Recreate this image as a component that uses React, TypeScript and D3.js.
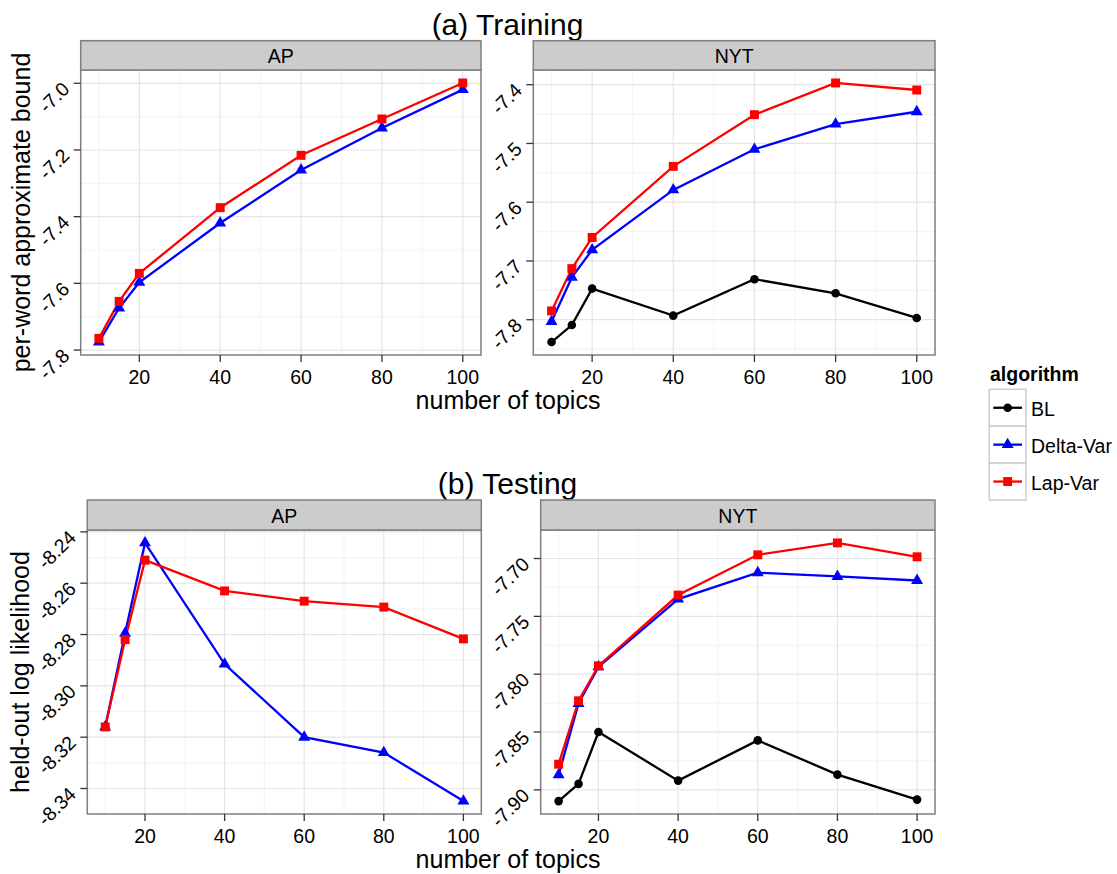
import React from 'react';
import * as d3 from 'd3';

// ---------- data ----------
const topics = [10, 15, 20, 40, 60, 80, 100];
const xTickValues = [20, 40, 60, 80, 100];
const xMinorValues = [10, 30, 50, 70, 90];

const algorithms = ['BL', 'Delta-Var', 'Lap-Var'];
const algColors = ['#000000', '#0000FF', '#FF0000'];
const algShapes = ['circle', 'triangle', 'square'];

const trainAP_Delta = [-7.776, -7.674, -7.597, -7.419, -7.26, -7.134, -7.019];
const trainAP_Lap = [-7.765, -7.654, -7.57, -7.373, -7.216, -7.107, -6.999];
const trainNYT_BL = [-7.838, -7.809, -7.747, -7.793, -7.731, -7.755, -7.797];
const trainNYT_Delta = [-7.803, -7.728, -7.681, -7.579, -7.51, -7.467, -7.446];
const trainNYT_Lap = [-7.785, -7.713, -7.66, -7.539, -7.451, -7.397, -7.409];

const testAP_Delta = [-8.316, -8.2795, -8.2443, -8.2915, -8.32, -8.326, -8.3449];
const testAP_Lap = [-8.316, -8.282, -8.251, -8.263, -8.267, -8.2693, -8.2817];
const testNYT_BL = [-7.9097, -7.8948, -7.85, -7.892, -7.8572, -7.8868, -7.9084];
const testNYT_Delta = [-7.887, -7.8253, -7.7937, -7.7351, -7.7123, -7.7155, -7.719];
const testNYT_Lap = [-7.8778, -7.823, -7.7928, -7.7316, -7.6968, -7.6865, -7.6985];

const yTicksTrainAP = [-7.8, -7.6, -7.4, -7.2, -7.0];
const yTicksTrainNYT = [-7.8, -7.7, -7.6, -7.5, -7.4];
const yTicksTestAP = [-8.34, -8.32, -8.3, -8.28, -8.26, -8.24];
const yTicksTestNYT = [-7.9, -7.85, -7.8, -7.75, -7.7];

const titleTrain = '(a) Training';
const titleTest = '(b) Testing';
const xTitle = 'number of topics';
const yTitleTrain = 'per-word approximate bound';
const yTitleTest = 'held-out log likelihood';
const legendTitle = 'algorithm';

// ---------- layout ----------
const W = 1117;
const H = 874;
const FONT = "'Liberation Sans', Arial, Helvetica, sans-serif";

type Series = { alg: number; values: number[] };
type Panel = {
  name: string;
  left: number;
  right: number;
  stripTop: number;
  top: number;
  bottom: number;
  series: Series[];
  yTicks: number[];
  decimals: number;
};

const panels: Panel[] = [
  { name: 'AP', left: 80.7, right: 481, stripTop: 40.7, top: 70, bottom: 355,
    series: [{ alg: 1, values: trainAP_Delta }, { alg: 2, values: trainAP_Lap }],
    yTicks: yTicksTrainAP, decimals: 1 },
  { name: 'NYT', left: 533.3, right: 935, stripTop: 40.7, top: 70, bottom: 355,
    series: [{ alg: 0, values: trainNYT_BL }, { alg: 1, values: trainNYT_Delta }, { alg: 2, values: trainNYT_Lap }],
    yTicks: yTicksTrainNYT, decimals: 1 },
  { name: 'AP', left: 87.3, right: 481.3, stripTop: 500, top: 530, bottom: 814,
    series: [{ alg: 1, values: testAP_Delta }, { alg: 2, values: testAP_Lap }],
    yTicks: yTicksTestAP, decimals: 2 },
  { name: 'NYT', left: 540.7, right: 935, stripTop: 500, top: 530, bottom: 814,
    series: [{ alg: 0, values: testNYT_BL }, { alg: 1, values: testNYT_Delta }, { alg: 2, values: testNYT_Lap }],
    yTicks: yTicksTestNYT, decimals: 2 },
];

const symbolTypes: Record<string, d3.SymbolType> = {
  circle: d3.symbolCircle,
  triangle: d3.symbolTriangle,
  square: d3.symbolSquare,
};
const symbolSizes: Record<string, number> = { circle: 58, triangle: 62, square: 80 };

function symbolPath(shape: string) {
  return d3.symbol().type(symbolTypes[shape]).size(symbolSizes[shape])() as string;
}

function PanelView({ p }: { p: Panel }) {
  const xExt = d3.extent(topics) as [number, number];
  const xPad = (xExt[1] - xExt[0]) * 0.05;
  const x = d3.scaleLinear().domain([xExt[0] - xPad, xExt[1] + xPad]).range([p.left, p.right]);
  const all = p.series.flatMap((s) => s.values);
  const yExt = d3.extent(all) as [number, number];
  const yPad = (yExt[1] - yExt[0]) * 0.05;
  const yDom: [number, number] = [yExt[0] - yPad, yExt[1] + yPad];
  const y = d3.scaleLinear().domain(yDom).range([p.bottom, p.top]);
  const step = p.yTicks[1] - p.yTicks[0];
  const yMinor = [p.yTicks[0] - step / 2, ...p.yTicks.map((t) => t + step / 2)].filter(
    (v) => v > yDom[0] && v < yDom[1]
  );
  const fmt = (v: number) => v.toFixed(p.decimals);
  const line = d3
    .line<number>()
    .x((_, i) => x(topics[i]))
    .y((d) => y(d));
  const stripMid = (p.stripTop + p.top) / 2;

  return (
    <g>
      <rect x={p.left} y={p.top} width={p.right - p.left} height={p.bottom - p.top} fill="#ffffff" />
      {xMinorValues.map((v) => (
        <line key={'xm' + v} x1={x(v)} x2={x(v)} y1={p.top} y2={p.bottom} stroke="#f5f5f5" strokeWidth={1.2} />
      ))}
      {yMinor.map((v, i) => (
        <line key={'ym' + i} x1={p.left} x2={p.right} y1={y(v)} y2={y(v)} stroke="#f5f5f5" strokeWidth={1.2} />
      ))}
      {xTickValues.map((v) => (
        <line key={'xg' + v} x1={x(v)} x2={x(v)} y1={p.top} y2={p.bottom} stroke="#e5e5e5" strokeWidth={1.2} />
      ))}
      {p.yTicks.map((v, i) => (
        <line key={'yg' + i} x1={p.left} x2={p.right} y1={y(v)} y2={y(v)} stroke="#e5e5e5" strokeWidth={1.2} />
      ))}
      {p.series.map((s) => (
        <path key={'l' + s.alg} d={line(s.values) as string} fill="none" stroke={algColors[s.alg]} strokeWidth={2.3} />
      ))}
      {p.series.map((s) =>
        s.values.map((v, i) => (
          <path
            key={'p' + s.alg + '-' + i}
            d={symbolPath(algShapes[s.alg])}
            transform={`translate(${x(topics[i])},${y(v)})`}
            fill={algColors[s.alg]}
          />
        ))
      )}
      <rect x={p.left} y={p.top} width={p.right - p.left} height={p.bottom - p.top} fill="none" stroke="#7f7f7f" strokeWidth={1.5} />
      <rect x={p.left} y={p.stripTop} width={p.right - p.left} height={p.top - p.stripTop} fill="#cccccc" stroke="#7f7f7f" strokeWidth={1.5} />
      <text x={(p.left + p.right) / 2} y={stripMid + 1} textAnchor="middle" dominantBaseline="central" fontSize={19.5} fontFamily={FONT} fill="#000">
        {p.name}
      </text>
      {xTickValues.map((v) => (
        <g key={'xt' + v}>
          <line x1={x(v)} x2={x(v)} y1={p.bottom} y2={p.bottom + 7} stroke="#333333" strokeWidth={1.3} />
          <text x={x(v)} y={p.bottom + 28.5} textAnchor="middle" fontSize={19.5} fontFamily={FONT} fill="#000">
            {v}
          </text>
        </g>
      ))}
      {p.yTicks.map((v, i) => (
        <g key={'yt' + i}>
          <line x1={p.left - 7} x2={p.left} y1={y(v)} y2={y(v)} stroke="#333333" strokeWidth={1.3} />
          <text
            transform={`translate(${p.left - 15},${y(v) + 2}) rotate(-45)`}
            textAnchor="end"
            dominantBaseline="central"
            fontSize={19.5}
            fontFamily={FONT}
            fill="#000"
          >
            {fmt(v)}
          </text>
        </g>
      ))}
    </g>
  );
}

function Legend() {
  const left = 989.3;
  const keyW = 36.7;
  const keyH = 36.9;
  const top = 389.3;
  return (
    <g>
      <text x={990} y={381} fontSize={19.5} fontWeight="bold" fontFamily={FONT} fill="#000">
        {legendTitle}
      </text>
      {algorithms.map((a, i) => {
        const cy = top + keyH * i + keyH / 2;
        return (
          <g key={a}>
            <rect x={left} y={top + keyH * i} width={keyW} height={keyH} fill="#ffffff" stroke="#cccccc" strokeWidth={1.5} />
            <line x1={left + 4} x2={left + keyW - 4} y1={cy} y2={cy} stroke={algColors[i]} strokeWidth={2.3} />
            <path d={symbolPath(algShapes[i])} transform={`translate(${left + keyW / 2},${cy})`} fill={algColors[i]} />
            <text x={1031} y={cy + 1} dominantBaseline="central" fontSize={19.5} fontFamily={FONT} fill="#000">
              {a}
            </text>
          </g>
        );
      })}
    </g>
  );
}

export default function App() {
  return (
    <svg
      width={W}
      height={H}
      viewBox={`0 0 ${W} ${H}`}
      style={{ position: 'absolute', left: 0, top: 0, background: '#ffffff' }}
    >
      <rect x={0} y={0} width={W} height={H} fill="#ffffff" />
      <text x={507.5} y={35} textAnchor="middle" fontSize={30} fontFamily={FONT} fill="#000">
        {titleTrain}
      </text>
      <text x={507.5} y={494} textAnchor="middle" fontSize={30} fontFamily={FONT} fill="#000">
        {titleTest}
      </text>
      {panels.map((p, i) => (
        <PanelView key={i} p={p} />
      ))}
      <text x={508} y={409} textAnchor="middle" fontSize={25} fontFamily={FONT} fill="#000">
        {xTitle}
      </text>
      <text x={508} y={868} textAnchor="middle" fontSize={25} fontFamily={FONT} fill="#000">
        {xTitle}
      </text>
      <text transform={`translate(30,212.5) rotate(-90)`} textAnchor="middle" fontSize={25} fontFamily={FONT} fill="#000">
        {yTitleTrain}
      </text>
      <text transform={`translate(29,672) rotate(-90)`} textAnchor="middle" fontSize={25} fontFamily={FONT} fill="#000">
        {yTitleTest}
      </text>
      <Legend />
    </svg>
  );
}
